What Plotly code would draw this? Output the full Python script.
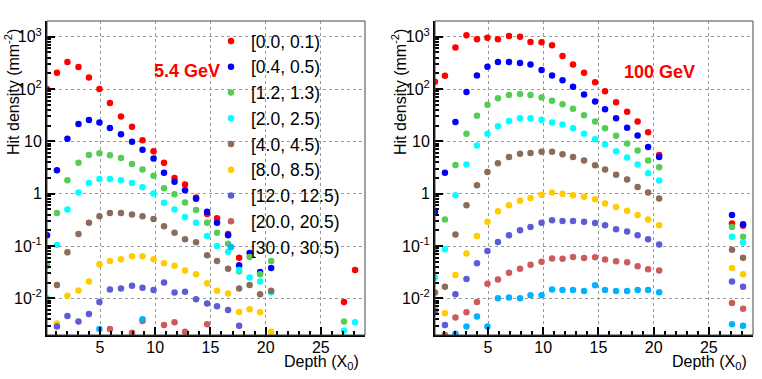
import plotly.graph_objects as go

# depth of each sampling layer (X0)
depth = [0.2, 1.1, 2.05, 3.05, 4.0, 4.95, 5.9, 6.9, 7.9, 8.85, 9.85, 10.8,
         11.75, 12.7, 13.7, 14.7, 15.6, 16.6, 17.6, 18.55, 19.5, 20.5, 27.1, 28.1]

labels = ["[0.0, 0.1)", "[0.4, 0.5)", "[1.2, 1.3)", "[2.0, 2.5)", "[4.0, 4.5)",
          "[8.0, 8.5)", "[12.0, 12.5)", "[20.0, 20.5)", "[30.0, 30.5)"]
colors = ["#ff0000", "#0000ff", "#55cc55", "#00ffff", "#8c6b5b",
          "#ffcc00", "#5c5cd6", "#cc5c5c", "#00b2ff"]

y_tickvals = [0.01, 0.1, 1, 10, 100, 1000]
y_ticktext = ["10<sup>-2</sup>", "10<sup>-1</sup>", "1", "10", "10<sup>2</sup>", "10<sup>3</sup>"]
x_tickvals = [5, 10, 15, 20, 25]

# 5.4 GeV
low_00 = [100, 205, 330, 263, 167, 100, 54, 30, 19, 10.5, 6.5, 3.9, 2.0, 1.5, 0.85, 0.41,
          0.34, 0.17, 0.06, None, None, None, 0.0085, 0.035]
low_04 = [0.16, 2.8, 11.2, 21.5, 25.5, 23, 18, 13.7, 9.8, 6.9, 4.7, 2.5, 1.7, 1.17, 0.8, 0.45,
          0.28, 0.16, 0.043, 0.074, 0.032, 0.038, None, None]
low_12 = [0.042, 0.43, 1.8, 3.9, 5.5, 5.9, 5.4, 4.8, 3.7, 2.9, 2.2, 1.27, 0.98, 0.68, 0.49, 0.28,
          0.18, 0.11, 0.033, 0.062, 0.029, 0.052, 0.0036, None]
low_20 = [0.010, 0.105, 0.50, 1.05, 1.6, 1.9, 1.9, 1.8, 1.6, 1.33, 1.01, 0.67, 0.50, 0.36, 0.28,
          0.155, 0.10, 0.078, 0.035, 0.025, 0.021, 0.013, 0.0024, 0.0035]
low_40 = [None, 0.018, 0.076, 0.17, 0.28, 0.37, 0.43, 0.43, 0.40, 0.37, 0.33, 0.24, 0.18, 0.135,
          0.118, 0.067, 0.052, 0.037, 0.0155, 0.018, 0.012, 0.014, None, None]
low_80 = [None, 0.0033, 0.0112, 0.0142, 0.021, 0.045, 0.052, 0.056, 0.064, 0.064, 0.056, 0.047,
          0.042, 0.034, 0.029, 0.0195, 0.014, 0.0124, 0.0055, 0.0062, 0.0054, 0.0023, None, None]
low_120 = [None, 0.0029, 0.0046, 0.0036, 0.005, 0.0085, 0.0148, 0.0155, 0.0174, 0.016, 0.0145,
           0.020, 0.0129, 0.0134, 0.0096, 0.0080, 0.0071, 0.0060, 0.003, None, None, None, None, None]
low_200 = [None, None, None, None, None, None, 0.0026, None, 0.0022, 0.0037, None, 0.0031,
           0.0035, 0.0023, None, 0.0032, None, None, None, None, None, None, None, None]
low_300 = [None, None, None, None, None, 0.0026, None, None, None, 0.0040, None, None,
           None, None, None, None, None, None, None, None, None, None, None, None]

# 100 GeV
high_00 = [138, 179, 620, 1070, 890, 960, 890, 1030, 1000, 790, 780, 685, 430, 295, 205, 135,
           91, 56, 37, 24, 15, 5.5, 0.27, 0.245]
high_04 = [0.45, 2.5, 23.5, 88, 182, 267, 330, 330, 316, 295, 230, 182, 147, 110, 79, 58,
           41, 27.5, 18.3, 13, 7.8, 5.0, 0.39, 0.26]
high_12 = [0.085, 0.32, 3.55, 14, 31, 50, 67, 77, 80, 77, 69, 60, 51, 42, 31.5, 24,
           17.8, 12.8, 9.1, 6.7, 4.3, 3.2, 0.23, 0.15]
high_20 = [0.025, 0.087, 0.93, 3.6, 8.3, 14, 19.5, 24.5, 27.5, 27.5, 26, 23, 21, 17.8, 14, 11,
           8.7, 6.5, 4.9, 3.6, 2.45, 1.78, 0.15, 0.117]
high_40 = [0.013, 0.0166, 0.166, 0.60, 1.45, 2.6, 3.8, 5.0, 5.8, 6.0, 6.3, 6.3, 5.7, 5.0, 4.3,
           3.5, 2.9, 2.3, 1.86, 1.35, 1.06, 0.81, 0.085, 0.060]
high_80 = [0.0065, 0.0052, 0.028, 0.072, 0.155, 0.29, 0.46, 0.60, 0.73, 0.83, 0.95, 1.05, 1.0,
           0.93, 0.87, 0.78, 0.65, 0.56, 0.47, 0.39, 0.32, 0.25, 0.038, 0.029]
high_120 = [0.0056, 0.0031, 0.012, 0.0235, 0.047, 0.080, 0.12, 0.16, 0.20, 0.23, 0.28, 0.31,
            0.30, 0.30, 0.29, 0.275, 0.25, 0.21, 0.19, 0.16, 0.135, 0.107, 0.021, 0.0166]
high_200 = [None, 0.002, 0.0043, 0.0054, 0.0085, 0.019, 0.023, 0.031, 0.037, 0.044, 0.050,
            0.058, 0.057, 0.062, 0.059, 0.061, 0.055, 0.051, 0.049, 0.041, 0.036, 0.034, 0.0082, 0.0063]
high_300 = [None, None, 0.0021, 0.0029, 0.0045, 0.0029, 0.010, 0.0104, 0.010, 0.0115, 0.0115,
            0.0148, 0.0145, 0.0145, 0.0139, 0.0178, 0.0145, 0.0138, 0.0139, 0.0145, 0.0145,
            0.0131, 0.0032, 0.0030]

low_series = [low_00, low_04, low_12, low_20, low_40, low_80, low_120, low_200, low_300]
high_series = [high_00, high_04, high_12, high_20, high_40, high_80, high_120, high_200, high_300]

FONT = "Liberation Sans, Arial, Helvetica, sans-serif"
W, H = 762, 379

fig = go.Figure()

for i in range(len(labels)):
    fig.add_trace(go.Scatter(x=depth, y=low_series[i], mode='markers', name=labels[i],
                             marker=dict(color=colors[i], size=6.5), xaxis='x', yaxis='y',
                             showlegend=True))
for i in range(len(labels)):
    fig.add_trace(go.Scatter(x=depth, y=high_series[i], mode='markers', name=labels[i],
                             marker=dict(color=colors[i], size=6.5), xaxis='x2', yaxis='y2',
                             showlegend=False))

# plot areas in pixels
left_dom = [47 / W, 365 / W]
right_dom = [435 / W, 753 / W]
y_dom = [1 - 335 / H, 1 - 21 / H]

xaxis_style = dict(range=[0.2, 29], tickmode='array', tickvals=x_tickvals, ticks='inside',
                   ticklen=8, tickwidth=1.5, tickcolor='black', showline=True, linecolor='black',
                   linewidth=2, showgrid=True, gridcolor='#999999', griddash='dot', gridwidth=1,
                   zeroline=False, tickfont=dict(family=FONT, size=16, color='black'),
                   automargin=False, ticklabelstandoff=-3,
                   minor=dict(dtick=1, ticks='inside', ticklen=4, tickcolor='black', showgrid=False))
yaxis_style = dict(type='log', range=[-2.7, 3.3], tickmode='array', tickvals=y_tickvals,
                   ticktext=y_ticktext, ticks='inside', ticklen=8, tickwidth=1.5, tickcolor='black',
                   showline=True, linecolor='black', linewidth=2, showgrid=True,
                   gridcolor='#999999', griddash='dot', gridwidth=1, zeroline=False,
                   tickfont=dict(family=FONT, size=16, color='black'), automargin=False,
                   minor=dict(dtick='D1', ticks='inside', ticklen=4, tickcolor='black', showgrid=False))

fig.update_layout(
    width=W, height=H,
    margin=dict(l=0, r=0, t=0, b=0, autoexpand=False),
    paper_bgcolor='white', plot_bgcolor='white',
    xaxis={**xaxis_style, 'domain': left_dom, 'anchor': 'y'},
    yaxis={**yaxis_style, 'domain': y_dom, 'anchor': 'x'},
    xaxis2={**xaxis_style, 'domain': right_dom, 'anchor': 'y2'},
    yaxis2={**yaxis_style, 'domain': y_dom, 'anchor': 'x2'},
    legend=dict(x=211 / W, y=1 - 23 / H, xanchor='left', yanchor='top',
                bgcolor='rgba(0,0,0,0)', borderwidth=0,
                font=dict(family=FONT, size=17.5, color='black'), tracegroupgap=0),
    showlegend=True,
)

# thin frame on top / right
for xr, yr in [('x domain', 'y domain'), ('x2 domain', 'y2 domain')]:
    fig.add_shape(type='rect', xref=xr, yref=yr, x0=0, x1=1, y0=0, y1=1,
                  line=dict(color='#444444', width=1), layer='above')

annotations = [
    dict(text="<b>5.4 GeV</b>", x=187 / W, y=1 - 71 / H, font=dict(size=18, color='red')),
    dict(text="<b>100 GeV</b>", x=659 / W, y=1 - 72 / H, font=dict(size=18, color='red')),
    dict(text="Depth (X<sub>0</sub>)", x=361 / W, y=1 - 362 / H, xanchor='right',
         font=dict(size=16, color='black')),
    dict(text="Depth (X<sub>0</sub>)", x=749 / W, y=1 - 362 / H, xanchor='right',
         font=dict(size=16, color='black')),
    dict(text="Hit density (mm<sup>-2</sup>)", x=12 / W, y=1 - 92 / H, textangle=-90,
         font=dict(size=16, color='black')),
    dict(text="Hit density (mm<sup>-2</sup>)", x=399 / W, y=1 - 92 / H, textangle=-90,
         font=dict(size=16, color='black')),
]
for a in annotations:
    a.setdefault('xanchor', 'center')
    a['xref'] = 'paper'
    a['yref'] = 'paper'
    a['yanchor'] = 'middle'
    a['showarrow'] = False
    a['font']['family'] = FONT
    fig.add_annotation(**a)

# the page body has a default 8px margin; remove it so the figure fills the window
fig.write_html("out.html", config={'displayModeBar': False},
               post_script="document.body.style.margin = '0';")
